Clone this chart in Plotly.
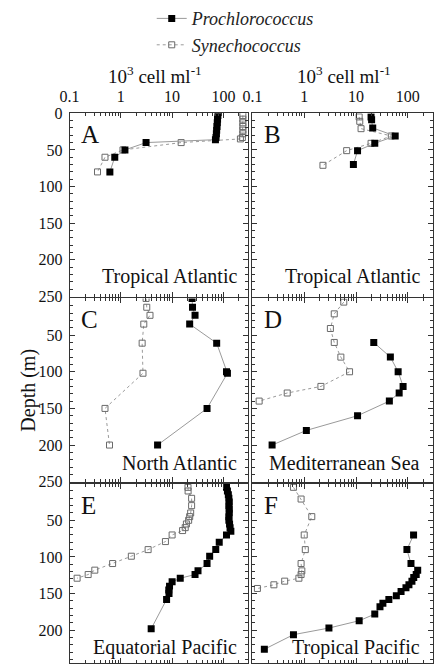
import plotly.graph_objects as go

# ---------------- data (depth in m, abundance in 10^3 cells/ml) ----------------
A_pro_depth = [3, 8, 13, 18, 23, 28, 33, 36, 40, 50, 60, 80]
A_pro_val   = [78, 77, 76, 75, 74, 73, 72, 70, 3.1, 1.2, 0.76, 0.61]
A_syn_depth = [3, 8, 13, 18, 23, 28, 33, 35, 40, 50, 60, 80]
A_syn_val   = [240, 240, 240, 240, 240, 240, 235, 215, 15, 1.1, 0.49, 0.35]

B_pro_depth = [5, 9, 20, 31, 41, 51, 70]
B_pro_val   = [19.5, 20, 21, 57, 23, 10.7, 8.9]
B_syn_depth = [5, 11, 21, 31, 41, 51, 71]
B_syn_val   = [11.5, 11.8, 12.5, 48, 19.5, 6.6, 2.3]

C_pro_depth = [0, 12, 23, 35, 61, 100, 102, 150, 200]
C_pro_val   = [24.5, 25, 28, 22, 74, 115, 120, 48, 5.2]
C_syn_depth = [0, 12, 23, 35, 61, 102, 150, 200]
C_syn_val   = [3.1, 3.2, 3.7, 2.8, 2.6, 2.7, 0.49, 0.6]

D_pro_depth = [60, 80, 100, 120, 129, 140, 160, 180, 200]
D_pro_val   = [22, 46, 65, 81, 68, 44, 10.7, 1.1, 0.24]
D_syn_depth = [5, 21, 41, 60, 80, 100, 120, 129, 140]
D_syn_val   = [5.8, 3.8, 3.2, 3.8, 5.1, 7.5, 2.1, 0.47, 0.135]

E_pro_depth = [5, 10, 15, 20, 25, 30, 35, 40, 45, 50, 55, 60, 65, 70, 80, 90, 99, 109,
               119, 124, 129, 134, 140, 145, 150, 158, 198]
E_pro_val   = [115, 120, 125, 128, 130, 128, 130, 130, 128, 128, 132, 135, 140, 115,
               83, 71, 54, 48, 32, 28, 14.4, 10, 8.9, 8.6, 8.7, 7.8, 3.9]
E_syn_depth = [5, 10, 20, 30, 40, 45, 50, 55, 60, 64, 70, 79, 90, 99, 109, 118, 124, 129]
E_syn_val   = [20.4, 20.5, 24, 24, 23, 22, 21, 19, 18, 16, 10, 7.4, 3.4, 1.6, 0.69,
               0.31, 0.23, 0.14]

F_pro_depth = [70, 90, 109, 118, 124, 128, 133, 138, 142, 147, 153, 158, 163, 168,
               178, 187, 197, 206, 226]
F_pro_val   = [129, 96, 115, 155, 145, 130, 120, 105, 92, 74, 60, 43, 33, 29, 23,
               11.5, 3.0, 0.62, 0.17]
F_syn_depth = [5, 21, 45, 70, 90, 109, 119, 124, 129, 133, 138, 143]
F_syn_val   = [0.62, 0.87, 1.4, 1.0, 1.05, 0.87, 0.9, 0.87, 0.79, 0.42, 0.26, 0.125]

panel_letters = ["A", "B", "C", "D", "E", "F"]
panel_regions = ["Tropical Atlantic", "Tropical Atlantic", "North Atlantic",
                 "Mediterranean Sea", "Equatorial Pacific", "Tropical Pacific"]
x_tickvals = [0.1, 1, 10, 100]
x_ticktext = ["0.1", "1", "10", "100"]
y_tickvals = [0, 50, 100, 150, 200, 250]

panels = [
    (A_pro_depth, A_pro_val, A_syn_depth, A_syn_val),
    (B_pro_depth, B_pro_val, B_syn_depth, B_syn_val),
    (C_pro_depth, C_pro_val, C_syn_depth, C_syn_val),
    (D_pro_depth, D_pro_val, D_syn_depth, D_syn_val),
    (E_pro_depth, E_pro_val, E_syn_depth, E_syn_val),
    (F_pro_depth, F_pro_val, F_syn_depth, F_syn_val),
]

# ---------------- layout geometry (pixels) ----------------
W, H = 443, 672
SERIF = "Liberation Serif"
xdom = [(61 / W, 244 / W), (248 / W, 433 / W)]
px_per_m = 188 / 250.0
row_tops = [108, 298, 488]

minor_x = [v * m for m in (0.1, 1, 10) for v in range(2, 10)] + [200, 300]

fig = go.Figure()
layout = {}
annotations = []

for i, (pd_, pv, sd, sv) in enumerate(panels):
    r, c = divmod(i, 2)
    n = i + 1
    xa = "x" if n == 1 else f"x{n}"
    ya = "y" if n == 1 else f"y{n}"
    fig.add_trace(go.Scatter(
        x=sv, y=sd, xaxis=xa, yaxis=ya, mode="lines+markers",
        name="<i>Synechococcus</i>", showlegend=(i == 0), legendrank=2,
        line=dict(color="#9a9a9a", width=1, dash="dot"),
        marker=dict(symbol="square-open", size=6, color="#6a6a6a",
                    line=dict(width=1, color="#6a6a6a"))))
    fig.add_trace(go.Scatter(
        x=pv, y=pd_, xaxis=xa, yaxis=ya, mode="lines+markers",
        name="<i>Prochlorococcus</i>", showlegend=(i == 0), legendrank=1,
        line=dict(color="#9a9a9a", width=1),
        marker=dict(symbol="square", size=7, color="black")))

    top = row_tops[r]
    bottom = top + 188
    ymax = 250.0
    if bottom > H:
        ymax = (H - top) / px_per_m
        bottom = H
    ydom = ((H - bottom) / H, (H - top) / H)

    xkey = "xaxis" if n == 1 else f"xaxis{n}"
    ykey = "yaxis" if n == 1 else f"yaxis{n}"
    layout[xkey] = dict(
        domain=list(xdom[c]), anchor=ya, type="log", range=[-1, 2.49],
        side="top", showticklabels=(r == 0),
        tickvals=x_tickvals, ticktext=x_ticktext,
        ticks="inside", ticklen=5, tickcolor="#333", mirror="allticks",
        showline=True, linecolor="#333", linewidth=1, showgrid=False, zeroline=False,
        ticklabelstandoff=4,
        tickfont=dict(family=SERIF, size=16, color="#111"),
        minor=dict(tickvals=minor_x, ticks="inside", ticklen=3, tickcolor="#333",
                   showgrid=False),
    )
    if r == 0:
        yv = y_tickvals
    else:
        yv = y_tickvals[1:]
    layout[ykey] = dict(
        domain=list(ydom), anchor=xa, range=[ymax, 0],
        showticklabels=(c == 0), tickvals=yv, ticktext=[str(v) for v in yv],
        ticks="inside", ticklen=5, tickcolor="#333", mirror="allticks",
        showline=True, linecolor="#333", linewidth=1, showgrid=False, zeroline=False,
        ticklabelstandoff=3,
        tickfont=dict(family=SERIF, size=16, color="#111"),
        minor=dict(dtick=10, ticks="inside", ticklen=3, tickcolor="#333", showgrid=False),
    )

    # panel letter
    lx = (71 if c == 0 else 258) / W
    annotations.append(dict(
        text=panel_letters[i], xref="paper", yref="paper", x=lx,
        y=(H - (top + 6)) / H, xanchor="left", yanchor="top", showarrow=False,
        font=dict(family=SERIF, size=25, color="#111")))
    # region label
    rx = (234 if c == 0 else 422) / W
    ry_center = [275, 467, 656][r]
    annotations.append(dict(
        text=panel_regions[i], xref="paper", yref="paper", x=rx,
        y=(H - ry_center) / H, xanchor="right", yanchor="middle", showarrow=False,
        font=dict(family=SERIF, size=20, color="#111")))

# axis unit titles
for cx in (148, 342):
    annotations.append(dict(
        text="10<sup>3</sup> cell ml<sup>-1</sup>", xref="paper", yref="paper",
        x=cx / W, y=(H - 69) / H, xanchor="center", yanchor="middle", showarrow=False,
        font=dict(family=SERIF, size=19, color="#111")))

# y title
annotations.append(dict(
    text="Depth (m)", xref="paper", yref="paper", x=18 / W, y=(H - 392) / H,
    xanchor="center", yanchor="middle", textangle=-90, showarrow=False,
    font=dict(family=SERIF, size=20, color="#111")))

fig.update_layout(
    width=W, height=H, margin=dict(l=0, r=0, t=0, b=0),
    paper_bgcolor="white", plot_bgcolor="white",
    showlegend=True,
    legend=dict(x=145 / W, y=1 + 8 / H, xanchor="left", yanchor="top",
                bgcolor="rgba(0,0,0,0)", tracegroupgap=0, itemwidth=30,
                font=dict(family=SERIF, size=18, color="#222")),
    annotations=annotations,
    **layout,
)

fig.write_html("out.html")
